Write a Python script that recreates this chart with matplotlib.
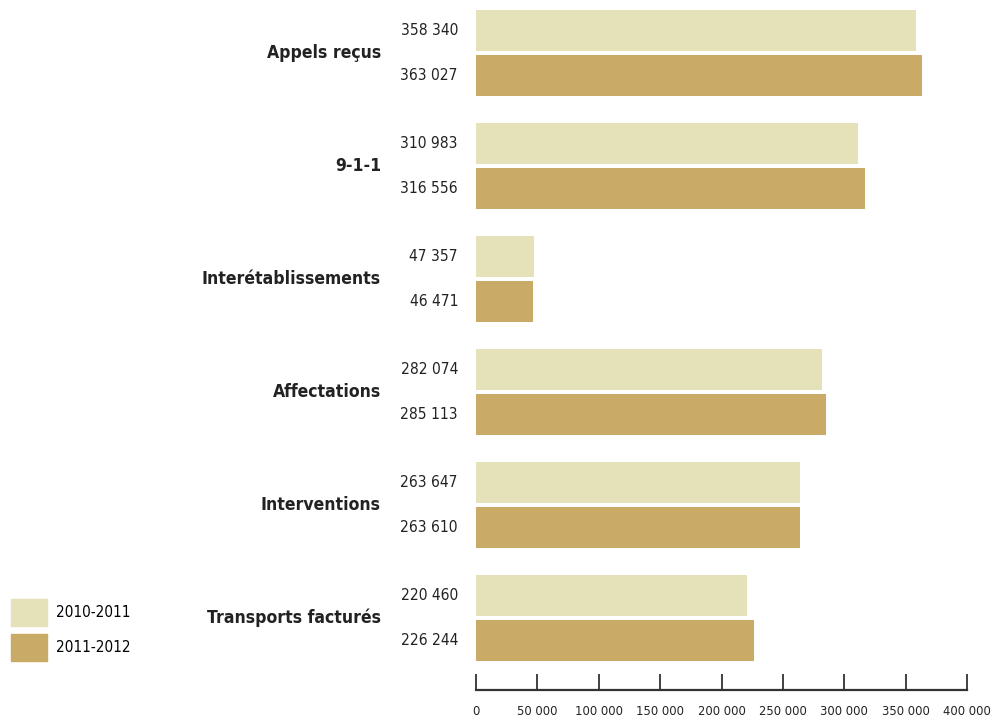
import numpy as np
import matplotlib.pyplot as plt
from matplotlib.patches import Patch
from matplotlib.ticker import FuncFormatter

# ----- data -----
categories = ["Appels reçus", "9-1-1", "Interétablissements",
              "Affectations", "Interventions", "Transports facturés"]
years = ["2010-2011", "2011-2012"]
vals_2010 = [358340, 310983, 47357, 282074, 263647, 220460]
vals_2011 = [363027, 316556, 46471, 285113, 263610, 226244]
xticks = [0, 50000, 100000, 150000, 200000, 250000, 300000, 350000, 400000]

light = "#E5E1B9"
dark = "#C9AB67"
txt = "#222222"

plt.rcParams['font.family'] = ['DejaVu Sans']
plt.rcParams['font.stretch'] = 'condensed'


def fmt(v):
    return f"{int(v):,}".replace(",", " ")


fig = plt.figure(figsize=(9.93, 7.21), dpi=100)
ax = fig.add_axes([476 / 993, 31 / 721, 491 / 993, 690 / 721])

y = np.arange(len(categories))
off = 0.201
h = 0.363
ax.barh(y - off, vals_2010, height=h, color=light)
ax.barh(y + off, vals_2011, height=h, color=dark)

ax.set_xlim(0, 400000)
ax.set_ylim(5.637, -0.469)

# value labels left of bars, category names further left
for i in range(len(categories)):
    ax.annotate(fmt(vals_2010[i]), (0, y[i] - off), xytext=(-18, 0),
                textcoords="offset pixels", ha="right", va="center",
                fontsize=11.2, color=txt)
    ax.annotate(fmt(vals_2011[i]), (0, y[i] + off), xytext=(-18, 0),
                textcoords="offset pixels", ha="right", va="center",
                fontsize=11.2, color=txt)
    ax.annotate(categories[i], (0, y[i]), xytext=(-95, 0),
                textcoords="offset pixels", ha="right", va="center",
                fontsize=12.6, fontweight="bold", color=txt)

for s in ["top", "right", "left"]:
    ax.spines[s].set_visible(False)
ax.spines["bottom"].set_color("#333333")
ax.spines["bottom"].set_linewidth(1.6)
ax.set_yticks([])
ax.set_xticks(xticks)
ax.xaxis.set_major_formatter(FuncFormatter(lambda v, p: fmt(v)))
ax.tick_params(axis="x", direction="in", length=11.5, width=1.3,
               color="#333333", pad=11, labelsize=9.3, labelcolor=txt)

handles = [Patch(color=light), Patch(color=dark)]
fig.legend(handles, years, loc="lower left", bbox_to_anchor=(0.0, 0.069),
           frameon=False, fontsize=11, handlelength=2.4, handleheight=2.3,
           labelspacing=0.55, handletextpad=0.55, borderaxespad=0.3)

fig.savefig("out.png", dpi=100)
